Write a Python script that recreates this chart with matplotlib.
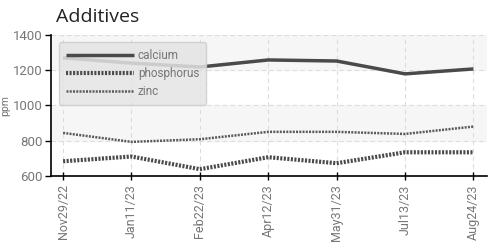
import matplotlib
matplotlib.use('Agg')
import matplotlib.pyplot as plt

dates = ['Nov29/22', 'Jan11/23', 'Feb22/23', 'Apr12/23', 'May31/23', 'Jul13/23', 'Aug24/23']
calcium = [1270, 1240, 1218, 1258, 1252, 1179, 1207]
phosphorus = [683, 710, 638, 706, 672, 734, 734]
zinc = [844, 793, 808, 850, 850, 838, 880]
yticks = [600, 800, 1000, 1200, 1400]

narrow = ['Roboto', 'DejaVu Sans']

fig = plt.figure(figsize=(4.93, 2.46), dpi=100)
ax = fig.add_axes([0.103, 0.285, 0.885, 0.573])

x = list(range(len(dates)))
# alternating bands
for i in range(len(yticks) - 1):
    if i % 2 == 1:
        ax.axhspan(yticks[i], yticks[i + 1], color='#f6f6f6', zorder=0)

ax.plot(x, calcium, color='#4a4a4a', lw=2.5, solid_capstyle='butt', label='calcium', zorder=3)
ax.plot(x, phosphorus, color='#4a4a4a', lw=3, ls=(0, (0.5, 0.35)), label='phosphorus', zorder=3)
ax.plot(x, zinc, color='#5a5a5a', lw=1.8, ls=(0, (0.8, 0.5)), label='zinc', zorder=3)

ax.set_xlim(-0.18, 6.2)
ax.set_ylim(600, 1400)
ax.set_yticks(yticks)
ax.set_xticks(x)
ax.set_xticklabels(dates, rotation=90, family=narrow, fontsize=9, color='#777777')
for lab in ax.get_yticklabels():
    lab.set_family(narrow)
    lab.set_fontsize(9.5)
    lab.set_color('#777777')

ax.grid(True, color='#dddddd', ls=(0, (4, 3)), lw=0.8, zorder=1)
ax.set_axisbelow(True)
for s in ['top', 'right']:
    ax.spines[s].set_visible(False)
ax.spines['left'].set_linewidth(1.2)
ax.spines['bottom'].set_linewidth(1.2)
ax.tick_params(axis='y', length=4, width=1, pad=2)
ax.tick_params(axis='x', direction='inout', length=6, width=1, pad=3)

ax.set_ylabel('ppm', fontsize=7.5, color='#777777', family=narrow)
ax.yaxis.set_label_coords(-0.094, 0.5)
fig.text(0.114, 0.895, 'Additives', fontsize=14, color='#222222', family='Open Sans', va='bottom')

leg = ax.legend(loc='upper left', bbox_to_anchor=(0.005, 0.99), frameon=True,
                fancybox=True, handlelength=5.8, handletextpad=0.3, labelspacing=0.4,
                borderpad=0.6, prop={'family': narrow, 'size': 8.5})
leg.get_frame().set_facecolor('#e4e4e4')
leg.get_frame().set_edgecolor('#cccccc')
leg.get_frame().set_alpha(0.85)
for t in leg.get_texts():
    t.set_color('#777777')

fig.savefig('out.png', dpi=100)
